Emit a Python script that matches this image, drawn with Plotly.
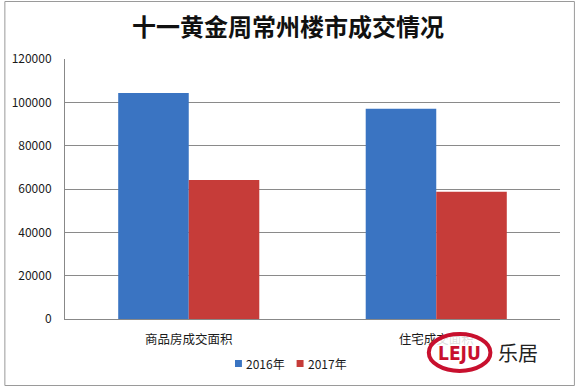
import plotly.graph_objects as go

categories = ["商品房成交面积", "住宅成交面积"]
series_names = ["2016年", "2017年"]
values_2016 = [104300, 97000]
values_2017 = [64200, 58700]
colors = ["#3A74C2", "#C63C39"]
y_ticks = [0, 20000, 40000, 60000, 80000, 100000, 120000]

W, H = 576, 388
ml, mr, mt, mb = 62, 16, 59, 69
pw, ph = W - ml - mr, H - mt - mb

def px(x):
    return (x - ml) / pw

def py(y):
    return (H - mb - y) / ph

fig = go.Figure()
for name, vals, col in zip(series_names, [values_2016, values_2017], colors):
    fig.add_trace(go.Bar(x=categories, y=vals, name=name, showlegend=False,
                         marker=dict(color=col, line=dict(width=0))))

font_family = "Noto Sans CJK SC, Noto Sans, sans-serif"

fig.update_layout(
    width=W, height=H,
    margin=dict(l=ml, r=mr, t=mt, b=mb),
    paper_bgcolor="white", plot_bgcolor="white",
    barmode="group", bargap=0.43, bargroupgap=0,
    font=dict(family=font_family, size=12, color="#1a1a1a"),
    title=dict(text="<b>十一黄金周常州楼市成交情况</b>", x=0.5, xanchor="center",
               y=1 - 28 / H, yanchor="middle",
               font=dict(size=24, color="#111111", family=font_family)),
    showlegend=False,
    xaxis=dict(showline=True, linecolor="#888888", linewidth=1,
               showgrid=False, ticks="", ticklabelstandoff=9,
               tickfont=dict(size=12.5)),
    yaxis=dict(range=[0, 120000], tickvals=y_ticks,
               showgrid=True, gridcolor="#8a8a8a", gridwidth=1,
               showline=True, linecolor="#888888", linewidth=1,
               zeroline=False, ticks="", ticklabelstandoff=10,
               tickformat="d", tickfont=dict(size=12)),
)

# legend (drawn manually to match compact spacing)
legend_x = [233, 295]
for name, col, lx in zip(series_names, colors, legend_x):
    fig.add_shape(type="rect", xref="paper", yref="paper",
                  x0=px(lx), x1=px(lx + 7), y0=py(367), y1=py(360),
                  line=dict(width=0), fillcolor=col, layer="above")
    fig.add_annotation(xref="paper", yref="paper", x=px(lx + 9), y=py(363.5),
                       xanchor="left", yanchor="middle", text=name,
                       showarrow=False, font=dict(size=12, color="#1a1a1a"))

# outer frame
fig.add_shape(type="rect", xref="paper", yref="paper",
              x0=px(1.5), x1=px(574.5), y0=py(385.5), y1=py(1.5),
              line=dict(color="#9a9a9a", width=1), fillcolor="rgba(0,0,0,0)",
              layer="above")

# LEJU logo
fig.add_shape(type="circle", xref="paper", yref="paper",
              x0=px(428), x1=px(490), y0=py(371), y1=py(334),
              line=dict(color="#C8102E", width=4), fillcolor="rgba(255,255,255,0.85)",
              layer="above")
fig.add_annotation(xref="paper", yref="paper", x=px(459), y=py(353),
                   xanchor="center", yanchor="middle",
                   text="<b>LEJU</b>", showarrow=False,
                   font=dict(size=19, color="#C8102E",
                             family="DejaVu Sans Condensed, Liberation Sans Narrow, sans-serif"))
fig.add_annotation(xref="paper", yref="paper", x=px(518), y=py(352),
                   xanchor="center", yanchor="middle",
                   text="乐居", showarrow=False,
                   font=dict(size=20, color="#222222", family=font_family))

fig.write_html("out.html", config={"displayModeBar": False},
               post_script="document.body.style.margin='0';document.body.style.padding='0';")
